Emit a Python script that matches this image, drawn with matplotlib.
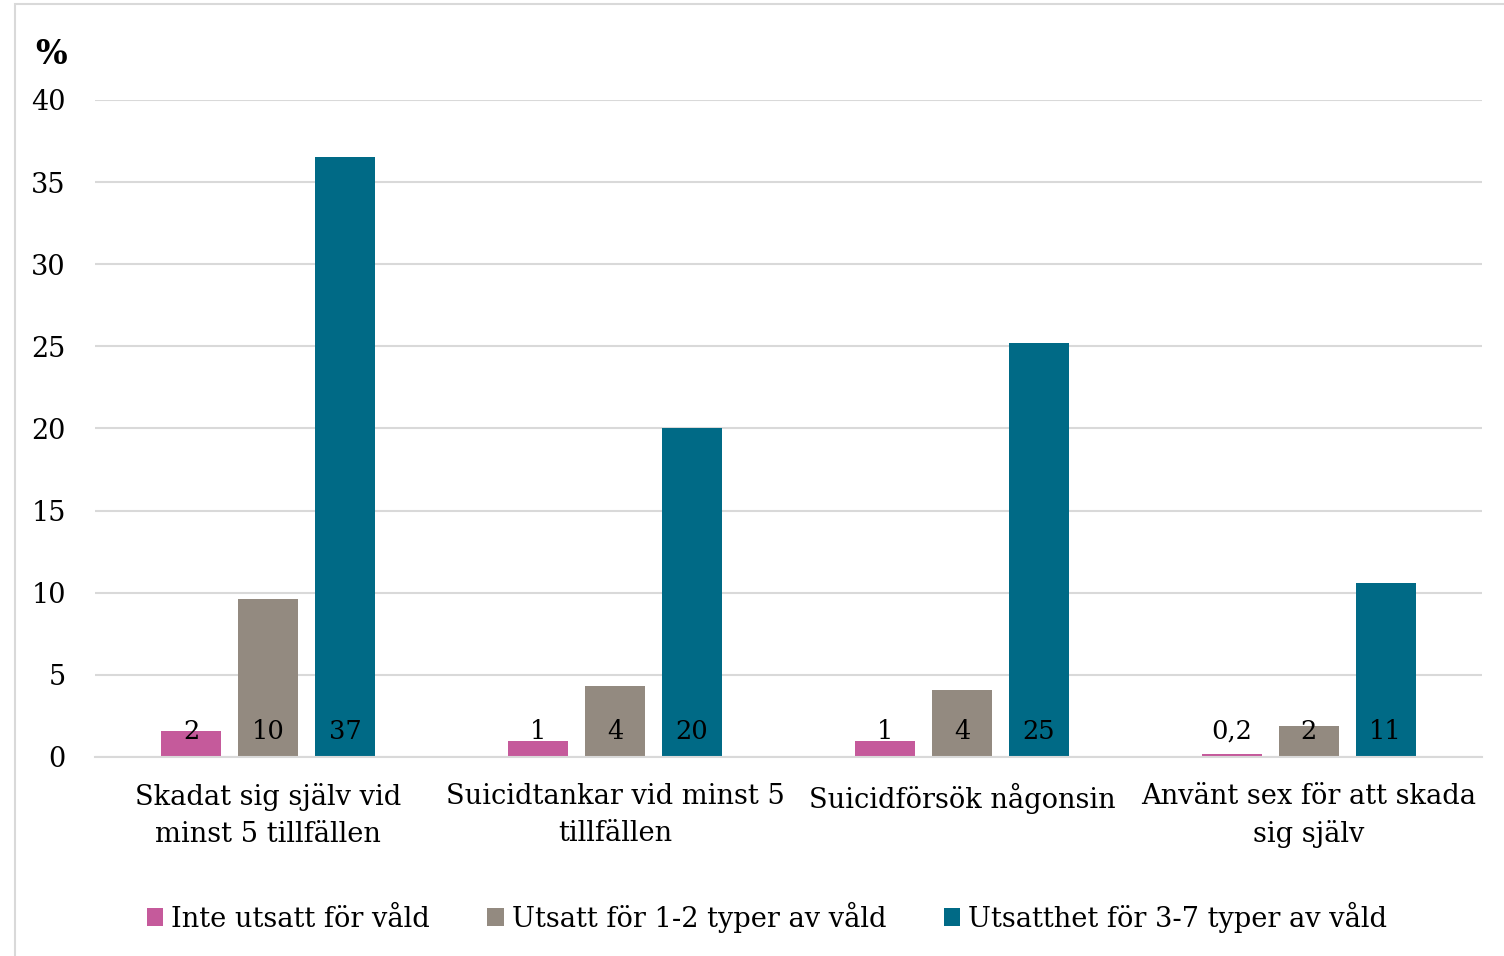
import matplotlib

matplotlib.use("Agg")
import matplotlib.pyplot as plt
import numpy as np
from matplotlib.patches import Rectangle

plt.rcParams["font.family"] = ["DejaVu Serif"]

categories = [
    "Skadat sig själv vid\nminst 5 tillfällen",
    "Suicidtankar vid minst 5\ntillfällen",
    "Suicidförsök någonsin",
    "Använt sex för att skada\nsig själv",
]
series_names = [
    "Inte utsatt för våld",
    "Utsatt för 1-2 typer av våld",
    "Utsatthet för 3-7 typer av våld",
]
values_none = [1.6, 1.0, 1.0, 0.2]
values_low = [9.6, 4.3, 4.1, 1.9]
values_high = [36.5, 20.0, 25.2, 10.6]
labels_none = ["2", "1", "1", "0,2"]
labels_low = ["10", "4", "4", "2"]
labels_high = ["37", "20", "25", "11"]
yticks = [0, 5, 10, 15, 20, 25, 30, 35, 40]

colors = ["#C55A9B", "#938A80", "#006A86"]

fig = plt.figure(figsize=(15.04, 9.56), dpi=100)
ax = fig.add_axes([0.0632, 0.2082, 0.9222, 0.6872])

x = np.arange(len(categories))
width = 0.173
step = 0.222
all_vals = [values_none, values_low, values_high]
all_labels = [labels_none, labels_low, labels_high]
for i, (vals, labs) in enumerate(zip(all_vals, all_labels)):
    pos = x + (i - 1) * step
    ax.bar(pos, vals, width, color=colors[i], label=series_names[i], zorder=2)
    for px, lab in zip(pos, labs):
        ax.annotate(lab, (px, 0), xytext=(0, 18.5), textcoords="offset points",
                    ha="center", va="center", fontsize=18.5, color="black", zorder=3)

ax.set_xlim(-0.5, len(categories) - 0.5)
ax.set_ylim(0, 40)
ax.set_yticks(yticks)
ax.set_yticklabels([str(t) for t in yticks], fontsize=19.5)
ax.set_xticks(x)
ax.set_xticklabels(categories, fontsize=19.6, linespacing=1.45)
ax.tick_params(axis="both", length=0)
ax.tick_params(axis="x", pad=19)
ax.tick_params(axis="y", pad=21)
ax.grid(axis="y", color="#D9D9D9", linewidth=1.5, zorder=0)
for s in ["top", "right", "left"]:
    ax.spines[s].set_visible(False)
ax.spines["bottom"].set_color("#D9D9D9")
ax.spines["bottom"].set_linewidth(1.5)

fig.text(51 / 1504, 1 - 54 / 956, "%", fontsize=24, fontweight="bold",
         ha="center", va="center")

fig.legend(loc="center", bbox_to_anchor=(767 / 1504, 1 - 917 / 956), ncol=3,
           frameon=False, fontsize=19.6, handlelength=0.6, handleheight=0.6,
           handletextpad=0.3, columnspacing=2.1)

fig.patches.append(Rectangle((15 / 1504, -0.1), 1.2, 1 - 4 / 956 + 0.1,
                             transform=fig.transFigure, fill=False,
                             edgecolor="#D9D9D9", linewidth=1.5))

fig.savefig("out.png", dpi=100)
